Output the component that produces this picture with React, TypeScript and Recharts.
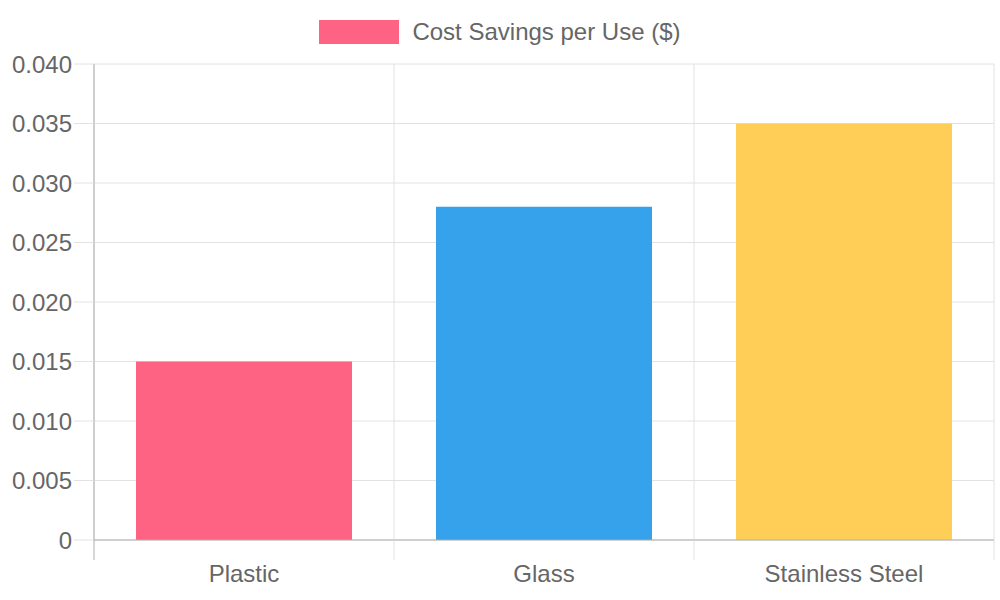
import { Bar, BarChart, CartesianGrid, Cell, Legend, XAxis, YAxis } from "recharts";

const materials = ["Plastic", "Glass", "Stainless Steel"];
const savings = [0.015, 0.028, 0.035];
const barColors = ["#FF6384", "#36A2EB", "#FFCE56"];
const yTicks = [0, 0.005, 0.01, 0.015, 0.02, 0.025, 0.03, 0.035, 0.04];
const seriesName = "Cost Savings per Use ($)";

const data = materials.map((material, i) => ({ material, savings: savings[i] }));

const FONT = '"Liberation Sans", Arial, sans-serif';
const TEXT = "#666666";
const GRID = "#e2e2e2";
const AXIS = "#adadad";

// category label plus the boundary tick marks (chart.js style offset grid)
function CategoryTick(props: any) {
  const { x, y, payload, index, visibleTicksCount, width } = props;
  const half = payload?.offset || width / visibleTicksCount / 2;
  const top = y - 25;
  const bottom = y - 5;
  const isLast = index === visibleTicksCount - 1;
  return (
    <g>
      <line x1={x - half} x2={x - half} y1={top} y2={bottom} stroke={index === 0 ? AXIS : GRID} />
      {isLast && <line x1={x + half} x2={x + half} y1={top} y2={bottom} stroke={GRID} />}
      <text
        x={x}
        y={y}
        dy="0.71em"
        textAnchor="middle"
        fill={TEXT}
        fontSize={24}
        fontFamily={FONT}
      >
        {payload.value}
      </text>
    </g>
  );
}

function LegendContent(props: any) {
  const item = props.payload?.[0];
  return (
    <div
      style={{
        height: 56,
        boxSizing: "border-box",
        paddingTop: 12,
        display: "flex",
        justifyContent: "center",
        alignItems: "flex-start",
        fontFamily: FONT,
        fontSize: 24,
        lineHeight: "24px",
        color: TEXT,
      }}
    >
      <span style={{ width: 80, height: 24, background: barColors[0], display: "inline-block" }} />
      <span style={{ marginLeft: 13 }}>{item ? item.value : seriesName}</span>
    </div>
  );
}

export default function App() {
  return (
    <div style={{ position: "absolute", left: 0, top: 0, background: "#fff" }}>
      <BarChart
        width={1000}
        height={600}
        data={data}
        margin={{ top: 8, right: 6, bottom: 0, left: 0 }}
        barCategoryGap="14%"
      >
        <CartesianGrid
          stroke={GRID}
          verticalCoordinatesGenerator={({ offset }: any) =>
            [0, ...materials.map((_, i) => i + 1)].map(
              (k) => offset.left + (offset.width * k) / materials.length
            )
          }
        />
        <Legend
          verticalAlign="top"
          content={<LegendContent />}
          wrapperStyle={{ left: 0, width: 1000 }}
        />
        <XAxis
          dataKey="material"
          height={60}
          interval={0}
          tickLine={false}
          tickSize={20}
          tickMargin={5}
          axisLine={{ stroke: AXIS }}
          tick={<CategoryTick />}
        />
        <YAxis
          type="number"
          width={94}
          domain={[0, 0.04]}
          ticks={yTicks}
          interval={0}
          tickSize={20}
          tickMargin={2}
          tickLine={{ stroke: GRID }}
          axisLine={{ stroke: AXIS }}
          tick={{ fill: TEXT, fontSize: 24, fontFamily: FONT }}
          tickFormatter={(v: number) => (v === 0 ? "0" : v.toFixed(3))}
        />
        <Bar dataKey="savings" name={seriesName} fill={barColors[0]} isAnimationActive={false}>
          {data.map((d, i) => (
            <Cell key={d.material} fill={barColors[i]} />
          ))}
        </Bar>
      </BarChart>
    </div>
  );
}
